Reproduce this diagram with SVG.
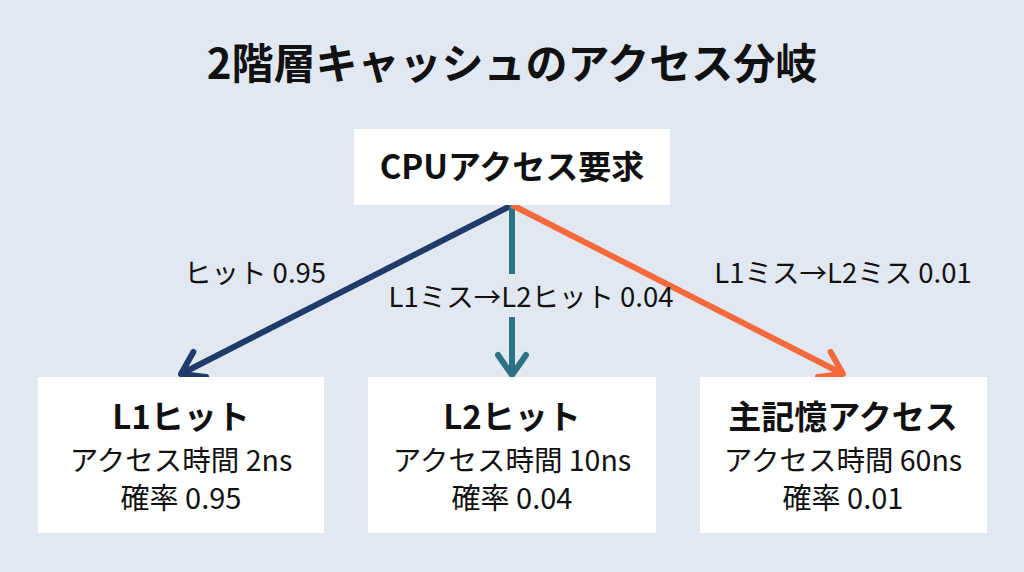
<svg xmlns="http://www.w3.org/2000/svg" width="1024" height="572" viewBox="0 0 1024 572">
  <style>
    .t { font-family: "Noto Sans CJK JP", "Noto Sans", sans-serif; fill: #111111; text-anchor: middle; }
    .title { font-size: 42px; font-weight: 700; }
    .head { font-size: 33px; font-weight: 700; }
    .sub { font-size: 28.5px; font-weight: 400; }
    .sub2 { font-size: 29px; font-weight: 400; }
    .lbl { font-size: 27.5px; font-weight: 400; }
    .box { fill: #ffffff; }
    .edge { fill: none; stroke-width: 6; }
  </style>
  <defs>
    <marker id="mNavy" markerUnits="userSpaceOnUse" orient="auto" refX="0" refY="0" markerWidth="60" markerHeight="60" viewBox="-30 -30 60 60" overflow="visible">
      <path d="M -21,-14 L 0,0 L -21,14" fill="none" stroke="#1f3b6a" stroke-width="6" stroke-linecap="round" stroke-linejoin="round"/>
    </marker>
    <marker id="mTeal" markerUnits="userSpaceOnUse" orient="auto" refX="0" refY="0" markerWidth="60" markerHeight="60" viewBox="-30 -30 60 60" overflow="visible">
      <path d="M -20,-14 L 0,0 L -20,14" fill="none" stroke="#2b7385" stroke-width="6" stroke-linecap="round" stroke-linejoin="round"/>
    </marker>
    <marker id="mOrange" markerUnits="userSpaceOnUse" orient="auto" refX="0" refY="0" markerWidth="60" markerHeight="60" viewBox="-30 -30 60 60" overflow="visible">
      <path d="M -21,-14 L 0,0 L -21,14" fill="none" stroke="#f5693b" stroke-width="6" stroke-linecap="round" stroke-linejoin="round"/>
    </marker>
  </defs>

  <rect x="0" y="0" width="1024" height="572" fill="#e1e8f2"/>

  <text class="t title" x="512" y="79">2階層キャッシュのアクセス分岐</text>

  <g id="connectors">
    <line class="edge" x1="512" y1="205" x2="181" y2="374" stroke="#1f3b6a" marker-end="url(#mNavy)"/>
    <line class="edge" x1="512" y1="205" x2="512" y2="375" stroke="#2b7385" marker-end="url(#mTeal)"/>
    <line class="edge" x1="512" y1="205" x2="843" y2="374" stroke="#f5693b" marker-end="url(#mOrange)"/>
    <text class="t lbl" x="255" y="283">ヒット 0.95</text>
    <rect x="504" y="274" width="16" height="43" fill="#e1e8f2"/>
    <text class="t lbl" x="531" y="307">L1ミス→L2ヒット 0.04</text>
    <text class="t lbl" x="843" y="283">L1ミス→L2ミス 0.01</text>
  </g>

  <g id="cpu">
    <rect class="box" x="354" y="129" width="316" height="76"/>
    <text class="t head" x="512" y="179">CPUアクセス要求</text>
  </g>

  <g id="l1hit">
    <rect class="box" x="38" y="377" width="286" height="156"/>
    <text class="t head" x="181" y="429">L1ヒット</text>
    <text class="t sub" x="181" y="471">アクセス時間 2ns</text>
    <text class="t sub2" x="181" y="509">確率 0.95</text>
  </g>

  <g id="l2hit">
    <rect class="box" x="368" y="377" width="288" height="156"/>
    <text class="t head" x="512" y="429">L2ヒット</text>
    <text class="t sub" x="512" y="471">アクセス時間 10ns</text>
    <text class="t sub2" x="512" y="509">確率 0.04</text>
  </g>

  <g id="mainmem">
    <rect class="box" x="700" y="377" width="287" height="156"/>
    <text class="t head" x="843" y="429">主記憶アクセス</text>
    <text class="t sub" x="843" y="471">アクセス時間 60ns</text>
    <text class="t sub2" x="843" y="509">確率 0.01</text>
  </g>
</svg>
